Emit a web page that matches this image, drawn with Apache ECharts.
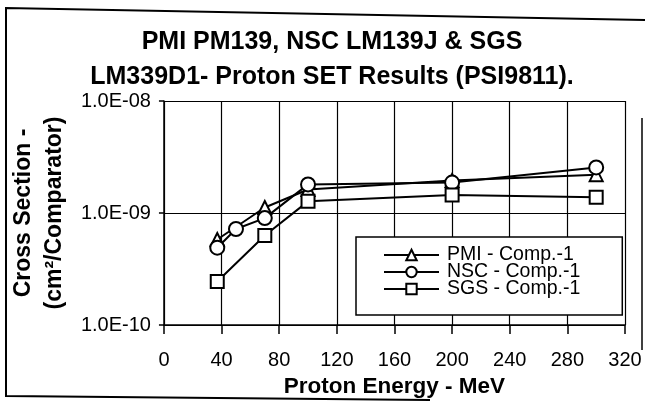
<!DOCTYPE html>
<html><head><meta charset="utf-8">
<script src="https://cdn.jsdelivr.net/npm/echarts@6/dist/echarts.min.js"></script>
<style>html,body{margin:0;padding:0;background:#fff}#c{width:645px;height:414px}</style>
</head><body><div id="c"></div>
<script>
const xTicks = [0, 40, 80, 120, 160, 200, 240, 280, 320];
const yTicks = ['1.0E-10', '1.0E-09', '1.0E-08'];
const pmiX = [37, 70, 100, 200, 300];
const pmiY = [5.8e-10, 1.12e-9, 1.62e-9, 1.95e-9, 2.2e-9];
const nscX = [37, 50, 70, 100, 200, 300];
const nscY = [4.9e-10, 7.2e-10, 9.0e-10, 1.8e-9, 1.87e-9, 2.55e-9];
const sgsX = [37, 70, 100, 200, 300];
const sgsY = [2.45e-10, 6.3e-10, 1.27e-9, 1.45e-9, 1.38e-9];
const seriesNames = ['PMI - Comp.-1', 'NSC - Comp.-1', 'SGS - Comp.-1'];

const F = '"Liberation Sans", Arial, sans-serif';
const zip = (xs, ys) => xs.map((x, i) => [x, ys[i]]);
const mk = (name, data, symbol, size) => ({
  name, type: 'line', data, symbol, symbolSize: size,
  lineStyle: { color: '#000', width: 2 },
  itemStyle: { color: '#fff', borderColor: '#000', borderWidth: 2 },
  emphasis: { disabled: true }, animation: false
});

const chart = echarts.init(document.getElementById('c'), null, { renderer: 'canvas' });
chart.setOption({
  animation: false,
  backgroundColor: '#fff',
  title: {
    text: 'PMI PM139, NSC LM139J & SGS\nLM339D1- Proton SET Results (PSI9811).',
    left: 332, textAlign: 'center', top: 25, padding: 0,
    textStyle: { fontFamily: F, fontWeight: 'bold', fontSize: 25, lineHeight: 35, color: '#000' }
  },
  grid: { left: 162, right: 20, top: 101, bottom: 89 },
  legend: {
    orient: 'vertical', left: 356, top: 237,
    padding: [8, 42, 16, 27], itemGap: -3, itemWidth: 55, itemHeight: 13,
    borderColor: '#000', borderWidth: 1.5, backgroundColor: '#fff',
    textStyle: { fontFamily: F, fontSize: 19.5, lineHeight: 17, color: '#000', padding: [0, 0, 0, 3] },
    data: seriesNames
  },
  xAxis: {
    type: 'value', min: 0, max: 320, interval: 40,
    name: 'Proton Energy - MeV', nameLocation: 'middle', nameGap: 47,
    nameTextStyle: { fontFamily: F, fontWeight: 'bold', fontSize: 22.5, color: '#000' },
    axisLine: { lineStyle: { color: '#000', width: 1.5 } },
    axisTick: { show: true, length: 9, lineStyle: { color: '#000', width: 1.5 } },
    axisLabel: { margin: 25, fontFamily: F, fontSize: 20, color: '#000',
      formatter: v => xTicks.includes(v) ? String(v) : '' },
    splitLine: { show: true, lineStyle: { color: '#000', width: 1.2 } }
  },
  yAxis: {
    type: 'log', logBase: 10, min: 1e-10, max: 1e-8,
    name: 'Cross Section -\n(cm²/Comparator)', nameLocation: 'middle', nameGap: 80, nameRotate: 90,
    nameTextStyle: { fontFamily: F, fontWeight: 'bold', fontSize: 23, lineHeight: 31, color: '#000' },
    axisLine: { lineStyle: { color: '#000', width: 1.5 } },
    axisTick: { show: true, length: 5, lineStyle: { color: '#000', width: 1.5 } },
    axisLabel: { margin: 13, fontFamily: F, fontSize: 20, color: '#000',
      formatter: v => { const e = Math.round(Math.log10(v)); const s = yTicks.find(t => Number(t) === Math.pow(10, e)); return s || ''; } },
    splitLine: { show: true, lineStyle: { color: '#000', width: 1.2 } },
    minorTick: { show: false }
  },
  graphic: [
    { type: 'polyline', shape: { points: [[645, 20], [6, 8], [6, 396], [430, 400]] },
      style: { fill: null, stroke: '#000', lineWidth: 2 }, z: 100, silent: true },
    { type: 'line', shape: { x1: 642, y1: 118, x2: 642, y2: 350 },
      style: { stroke: '#000', lineWidth: 1.5 }, z: 100, silent: true }
  ],
  series: [
    mk(seriesNames[0], zip(pmiX, pmiY), 'triangle', 13),
    mk(seriesNames[1], zip(nscX, nscY), 'circle', 14),
    mk(seriesNames[2], zip(sgsX, sgsY), 'rect', 13)
  ]
});
</script></body></html>
